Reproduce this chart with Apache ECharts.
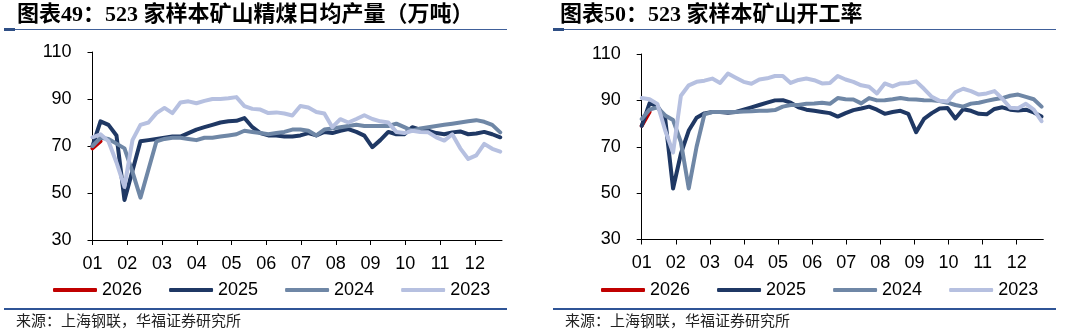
<!DOCTYPE html>
<html>
<head>
<meta charset="utf-8">
<script src="https://cdn.jsdelivr.net/npm/echarts@6/dist/echarts.min.js"></script>
<style>
html,body{margin:0;padding:0;background:#fff;}
#c{width:1080px;height:330px;}
</style>
</head>
<body>
<div id="c"></div>
<script>
// ---------- tick labels / categories ----------
const monthLabels = ['01','02','03','04','05','06','07','08','09','10','11','12'];
const years = ['2026','2025','2024','2023'];

// ---------- chart 49: daily clean-coal output (万吨), weekly ----------
const prod2026 = [69, 72];
const prod2025 = [70, 80.5, 79, 74.5, 47, 59.5, 72, 72.5, 73, 73.5,
  74, 74, 75.5, 77, 78, 79, 80, 80.5, 80.7, 81.9,
  78, 75.5, 74.5, 74.5, 74, 74, 74.5, 75.5, 74.5, 76,
  75.5, 76.5, 77.2, 76, 74.4, 69.5, 72.5, 76, 75, 75,
  78, 77, 76.5, 75.5, 75, 75.8, 76.2, 75, 75.3, 76,
  75, 73.7];
const prod2024 = [70, 73.5, 73, 71, 69, 59, 48, 60, 72, 73,
  73.5, 73.5, 73, 72.5, 73.5, 73.5, 74, 74.5, 75, 76.5,
  76, 75.5, 75, 75.5, 76, 77, 77, 76.5, 74.5, 77,
  77.5, 78, 78.5, 79, 78.5, 78.5, 78.5, 78.5, 79.5, 78,
  76.5, 77.5, 78, 78.5, 79, 79.5, 80, 80.5, 81, 80.3,
  79, 75.8];
const prod2023 = [73.7, 75, 72, 63, 52.6, 72.5, 79, 80, 84, 86.2,
  84, 88.5, 89, 88.2, 89.2, 90, 90, 90.3, 90.8, 87,
  85.8, 85.5, 84, 84.3, 83.8, 83, 87, 86.4, 84.5, 83.8,
  78, 81.4, 80, 81.5, 83.1, 81.5, 80.5, 80, 76, 75.5,
  76.5, 76, 75.8, 73.7, 72.3, 75, 69, 64.5, 66, 70.9,
  68.8, 67.6];

// ---------- chart 50: operating rate (%), weekly ----------
const util2026 = [79, 85];
const util2025 = [79, 88.7, 87.5, 82, 52, 67, 77, 82.5, 84.4, 85,
  85, 84.7, 85, 86, 87, 88, 89, 90, 90.1, 89,
  87, 86, 85.5, 85, 84.5, 83, 84.5, 85.8, 86.5, 87.3,
  86, 84.2, 85, 85.5, 84.2, 76.3, 82, 84.5, 86.5, 86.7,
  82.2, 86.2, 85.5, 84.2, 84, 86.3, 87, 86, 85.6, 86,
  84.8, 83];
const util2024 = [82, 86, 87, 83.5, 81.5, 72, 52, 70, 84, 85,
  85, 85, 85, 85.2, 85.3, 85.5, 85.5, 85.8, 87.3, 88,
  88, 88.5, 88.7, 89, 88.5, 91, 90.5, 90.4, 88.7, 91,
  90, 90.1, 90.5, 91, 90.5, 90.4, 90.1, 90, 89.7, 89,
  88, 87.3, 88.6, 89, 89.8, 90.5, 91, 92, 92.5, 91.5,
  90.5, 87.3];
const util2023 = [91, 90.5, 88.5, 77, 67.5, 92, 96.5, 98, 98.5, 99.4,
  97.5, 101.6, 99.8, 98, 97.2, 99, 99.5, 100.5, 100.5, 97.5,
  98.8, 99.4, 98.7, 97.3, 97.5, 100.5, 99, 98, 96.5, 95.9,
  93, 97.3, 96, 97.3, 97.5, 98.2, 95, 91.5, 89.8, 89.5,
  93.5, 95, 94, 92.5, 93, 94, 90.7, 86.8, 86.6, 88.5,
  86, 81];

const colors = {'2026':'#C00000','2025':'#1F3864','2024':'#6F87A6','2023':'#B6C0E0'};

// week index -> position on a month-unit axis (01 = 0)
const WEEK_IN_MONTHS = 7 / 30.437;
function pts(arr){ return arr.map((v,i)=>[i*WEEK_IN_MONTHS, v]); }

const chart = echarts.init(document.getElementById('c'), null, {renderer:'canvas'});
const FONT = '"Liberation Sans", Arial, sans-serif';
const monthTicks = monthLabels.map((m,i)=>i);

function xAx(gi){
  return {
    type:'value', gridIndex:gi, min:0, max:11.78,
    axisLine:{show:true, lineStyle:{color:'#000', width:1}},
    axisTick:{show:true, length:5, customValues:monthTicks, lineStyle:{color:'#000'}},
    axisLabel:{customValues:monthTicks, fontSize:18, color:'#000', fontFamily:FONT, margin:15,
      formatter:(v)=> (Math.abs(v-Math.round(v))<1e-6 && monthLabels[Math.round(v)]) ? monthLabels[Math.round(v)] : ''},
    splitLine:{show:false}
  };
}
function yAx(gi){
  return {
    type:'value', gridIndex:gi, min:30, max:110, interval:20,
    axisLine:{show:true, lineStyle:{color:'#000', width:1}},
    axisTick:{show:true, length:5, lineStyle:{color:'#000'}},
    axisLabel:{fontSize:18, color:'#000', fontFamily:FONT, margin:21},
    splitLine:{show:false}
  };
}
function ser(name, data, gi){
  return {
    name, type:'line', xAxisIndex:gi, yAxisIndex:gi, data:pts(data),
    symbol:'none', smooth:false, color:colors[name],
    lineStyle:{width:4, color:colors[name], cap:'round', join:'round'},
    emphasis:{disabled:true}, animation:false
  };
}
function legend(left){
  return {
    left, top:276, orient:'horizontal', icon:'roundRect', itemWidth:44, itemHeight:4,
    itemGap:27, data:years, selectedMode:false,
    textStyle:{fontSize:18, color:'#000', fontFamily:FONT}
  };
}
function panel(ox, tx, title){
  return [
    {type:'text', x:tx, y:15, style:{text:title, fontSize:22, fontWeight:'bold',
      fontFamily:'"Liberation Serif", "Noto Sans CJK SC", serif', fill:'#000', verticalAlign:'middle'}},
    {type:'line', shape:{x1:ox+4, y1:29.5, x2:ox+507, y2:29.5}, style:{stroke:'#40609A', lineWidth:1}},
    {type:'rect', shape:{x:ox+4, y:28, width:11, height:3}, style:{fill:'#2F4F85'}},
    {type:'line', shape:{x1:ox+4, y1:309, x2:ox+507, y2:309}, style:{stroke:'#2F5496', lineWidth:2}},
    {type:'text', x:ox+16, y:320, style:{text:'来源：上海钢联，华福证券研究所', fontSize:15,
      fontFamily:'"Noto Sans CJK SC", sans-serif', fill:'#222', verticalAlign:'middle'}}
  ];
}

const option = {
  animation:false,
  backgroundColor:'#fff',
  grid:[
    {left:92.5, top:52, width:409.5, height:188},
    {left:641.7, top:54, width:401.6, height:185.5}
  ],
  xAxis:[xAx(0), xAx(1)],
  yAxis:[yAx(0), yAx(1)],
  legend:[legend(48), legend(596)],
  series:[
    ser('2026', prod2026, 0), ser('2025', prod2025, 0), ser('2024', prod2024, 0), ser('2023', prod2023, 0),
    ser('2026', util2026, 1), ser('2025', util2025, 1), ser('2024', util2024, 1), ser('2023', util2023, 1)
  ],
  graphic: panel(0, 17, '图表49：523 家样本矿山精煤日均产量（万吨）').concat(panel(549, 560, '图表50：523 家样本矿山开工率'))
};
chart.setOption(option);
</script>
</body>
</html>
